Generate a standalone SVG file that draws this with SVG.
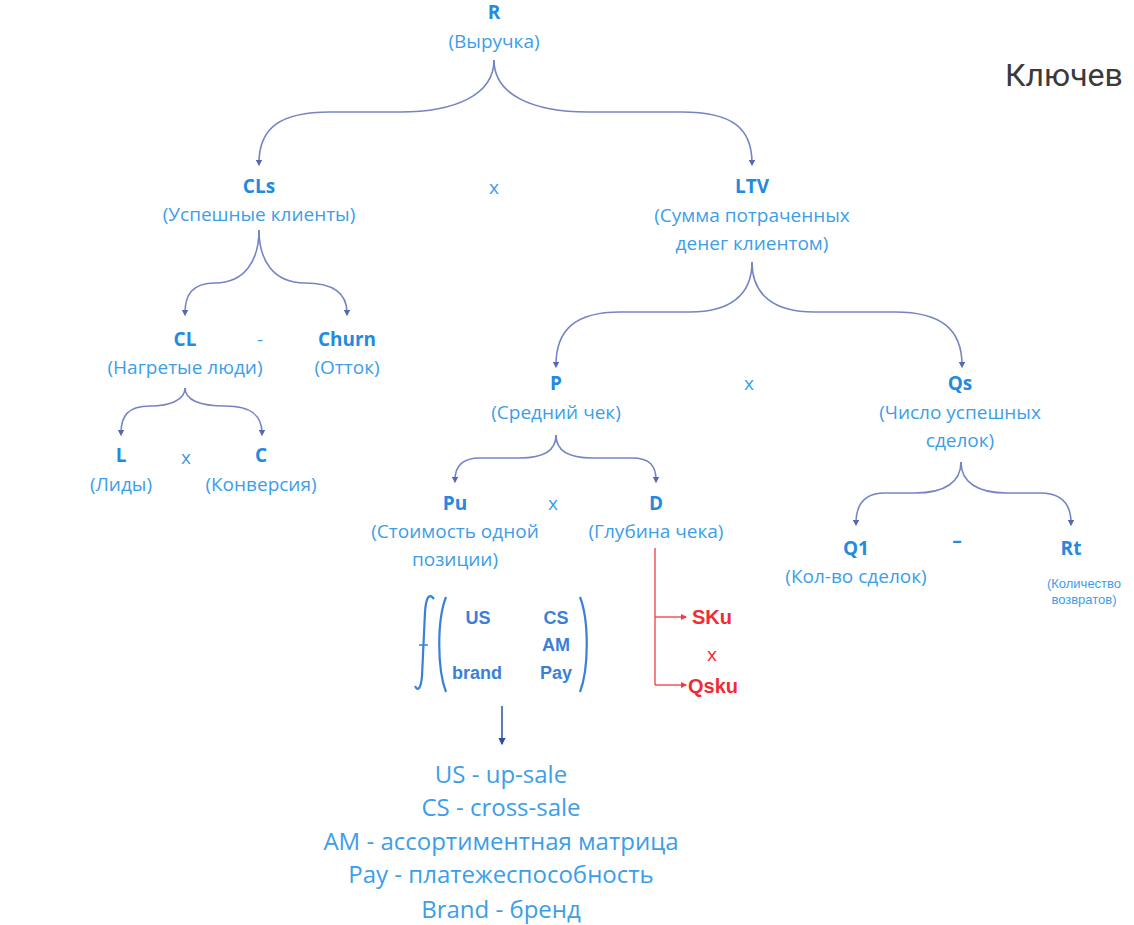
<svg xmlns="http://www.w3.org/2000/svg" width="1134" height="925" viewBox="0 0 1134 925">
<defs>
<style>
text{font-family:"Open Sans","Noto Sans","Liberation Sans",sans-serif;text-anchor:middle;}
.t{font-weight:bold;font-size:19px;fill:#238ade;}
.s{font-size:19px;fill:#3c9ee8;}
.op{font-size:19px;fill:#3c9ee8;}
.small{font-family:"Liberation Sans",Arial,sans-serif;font-size:13px;fill:#3c9ee8;}
.red{font-family:"Liberation Sans",Arial,sans-serif;font-weight:bold;font-size:20px;fill:#f02a36;text-anchor:start;}
.m{font-family:"Liberation Sans",Arial,sans-serif;font-weight:bold;font-size:18px;fill:#3a7fd8;}
.leg{font-size:24px;fill:#3c9ee8;}
.br{fill:none;stroke:#7585c4;stroke-width:1.6;marker-end:url(#dot);}
.rl{fill:none;stroke:#f23a44;stroke-width:1.3;}
.fm{fill:none;stroke:#3a7fd8;stroke-width:2.2;}
</style>
<marker id="dot" viewBox="0 0 6 6" refX="3" refY="3" markerWidth="4" markerHeight="4" orient="auto"><path d="M0,0 L6,3 L0,6 Z" fill="#5568b8"/></marker>
<marker id="ra" viewBox="0 0 6 6" refX="5" refY="3" markerWidth="5" markerHeight="5" orient="auto"><path d="M0,0 L6,3 L0,6 Z" fill="#f23a44"/></marker>
<marker id="da" viewBox="0 0 6 6" refX="5" refY="3" markerWidth="5" markerHeight="5" orient="auto"><path d="M0,0 L6,3 L0,6 Z" fill="#2c4f9e"/></marker>
</defs>
<rect width="1134" height="925" fill="#ffffff"/>
<g id="connectors">
<path class="br" d="M494,60 C494,95 455,112 400,112 L330,112 C280,112 259,128 259,163"/>
<path class="br" d="M494,60 C494,95 533,112 588,112 L682,112 C732,112 752,128 752,163"/>
<path class="br" d="M259,230 C259,260 245,283 215,283 C192,283 185,295 185,313"/>
<path class="br" d="M259,230 C259,260 273,283 305,283 C335,283 347,295 347,313"/>
<path class="br" d="M185,388 C185,400 170,406 150,406 C128,406 121,416 121,433"/>
<path class="br" d="M185,388 C185,400 200,406 225,406 C252,406 262,416 262,433"/>
<path class="br" d="M752,262 C752,295 730,312 690,312 L620,312 C575,312 556,330 556,365"/>
<path class="br" d="M752,262 C752,295 774,312 814,312 L895,312 C942,312 962,330 962,365"/>
<path class="br" d="M556,435 C556,450 545,458 520,458 L480,458 C462,458 455,466 455,480"/>
<path class="br" d="M556,435 C556,450 567,458 592,458 L632,458 C650,458 656,466 656,480"/>
<path class="br" d="M961,462 C961,482 945,493 915,493 L885,493 C864,493 856,505 856,523"/>
<path class="br" d="M961,462 C961,482 977,493 1007,493 L1040,493 C1062,493 1071,505 1071,523"/>
<path class="rl" d="M655,548 L655,685"/>
<path class="rl" d="M655,617 L686,617" marker-end="url(#ra)"/>
<path class="rl" d="M655,685 L686,685" marker-end="url(#ra)"/>
<path d="M502,706 L502,744" stroke="#2c4f9e" stroke-width="1.5" fill="none" marker-end="url(#da)"/>
</g>
<g id="node-R"><text class="t" x="494" y="19">R</text><text class="s" x="494" y="48">(Выручка)</text></g>
<g id="op-1"><text class="op" x="494" y="194">x</text></g>
<g id="node-CLs"><text class="t" x="259" y="193">CLs</text><text class="s" x="259" y="221">(Успешные клиенты)</text></g>
<g id="node-LTV"><text class="t" x="752" y="193">LTV</text><text class="s" x="752" y="222">(Сумма потраченных</text><text class="s" x="752" y="250">денег клиентом)</text></g>
<g id="node-CL"><text class="t" x="185" y="346">CL</text><text class="s" x="185" y="374">(Нагретые люди)</text></g>
<g id="op-2"><text class="op" x="260" y="346">-</text></g>
<g id="node-Churn"><text class="t" x="347" y="346">Churn</text><text class="s" x="347" y="374">(Отток)</text></g>
<g id="node-L"><text class="t" x="121" y="462">L</text><text class="s" x="121" y="491">(Лиды)</text></g>
<g id="op-3"><text class="op" x="186" y="464">x</text></g>
<g id="node-C"><text class="t" x="261" y="462">C</text><text class="s" x="261" y="491">(Конверсия)</text></g>
<g id="node-P"><text class="t" x="556" y="390">P</text><text class="s" x="556" y="419">(Средний чек)</text></g>
<g id="op-4"><text class="op" x="749" y="390">x</text></g>
<g id="node-Qs"><text class="t" x="960" y="390">Qs</text><text class="s" x="960" y="419">(Число успешных</text><text class="s" x="960" y="447">сделок)</text></g>
<g id="node-Pu"><text class="t" x="455" y="510">Pu</text><text class="s" x="455" y="538">(Стоимость одной</text><text class="s" x="455" y="566">позиции)</text></g>
<g id="op-5"><text class="op" x="553" y="510">x</text></g>
<g id="node-D"><text class="t" x="656" y="510">D</text><text class="s" x="656" y="538">(Глубина чека)</text></g>
<g id="node-Q1"><text class="t" x="856" y="555">Q1</text><text class="s" x="856" y="583">(Кол-во сделок)</text></g>
<g id="op-6"><text class="t" x="957" y="547">–</text></g>
<g id="node-Rt"><text class="t" x="1071" y="555">Rt</text><text class="small" x="1084" y="588">(Количество</text><text class="small" x="1084" y="604">возвратов)</text></g>
<g id="node-SKu"><text class="red" x="692" y="624">SKu</text></g>
<g id="op-7"><text class="op" x="712" y="661" style="fill:#f02a36">x</text></g>
<g id="node-Qsku"><text class="red" x="688" y="693">Qsku</text></g>
<g id="formula">
<path class="fm" d="M434,599 C429,592 426,598 425,612 L422,676 C421,688 418,692 415,686"/>
<path class="fm" d="M419,645 L428,645" style="stroke-width:1.5"/>
<path class="fm" d="M446,597 C437,620 437,668 446,692"/>
<path class="fm" d="M580,597 C589,620 589,668 580,692"/>
<text class="m" x="478" y="624">US</text>
<text class="m" x="556" y="624">CS</text>
<text class="m" x="556" y="651">AM</text>
<text class="m" x="477" y="679">brand</text>
<text class="m" x="556" y="679">Pay</text>
</g>
<g id="legend">
<text class="leg" x="501" y="783">US - up-sale</text>
<text class="leg" x="501" y="816">CS - cross-sale</text>
<text class="leg" x="501" y="850">AM - ассортиментная матрица</text>
<text class="leg" x="501" y="883">Pay - платежеспособность</text>
<text class="leg" x="501" y="918">Brand - бренд</text>
</g>
<g id="title"><text x="1005" y="86" style="text-anchor:start;font-family:Roboto,'Liberation Sans',sans-serif;font-size:32px;fill:#3a3a3a">Ключев</text></g>
</svg>
